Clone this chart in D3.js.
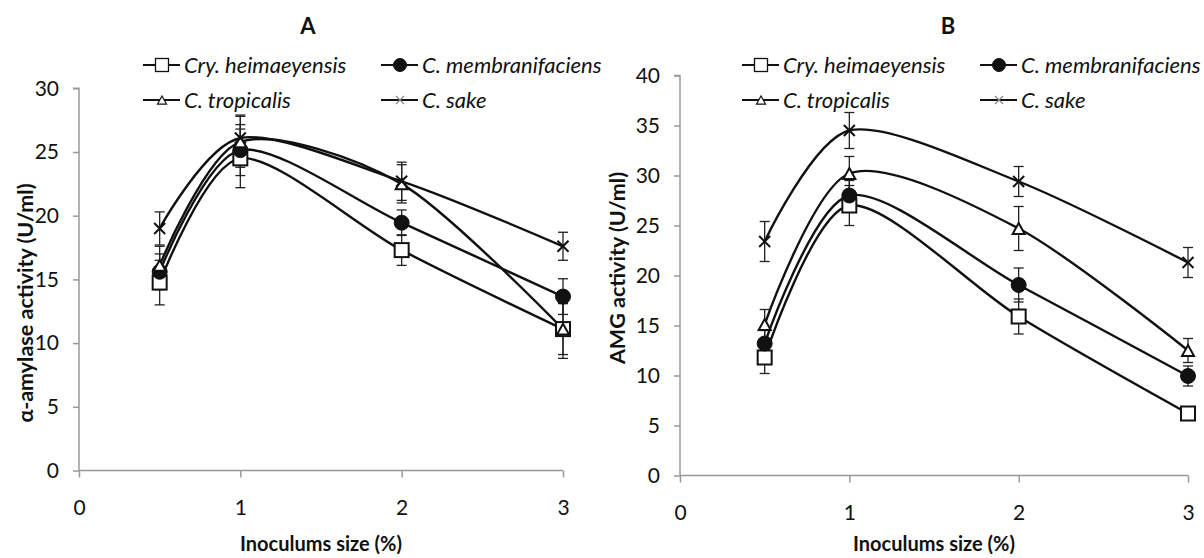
<!DOCTYPE html>
<html>
<head>
<meta charset="utf-8">
<script src="https://cdn.jsdelivr.net/npm/d3@7"></script>
<style>
  html, body { margin: 0; padding: 0; background: #fff; }
  svg { display: block; }
  text { font-family: Lato, "Open Sans", sans-serif; fill: #111; }
</style>
</head>
<body>
<svg id="chart" width="1204" height="558"></svg>
<script>
// Inoculum sizes (%)
const inoculumSizes = [0.5, 1, 2, 3];
const xTicks = [0, 1, 2, 3];

// Yeast strains
const strainNames = ["Cry. heimaeyensis", "C. membranifaciens", "C. tropicalis", "C. sake"];
const markerKinds = ["square", "circle", "triangle", "cross"];

// Panel A: alpha-amylase activity (U/ml), means and error
const amylaseCry  = [14.75, 24.5, 17.3, 11.1];
const amylaseMem  = [15.6, 25.15, 19.45, 13.65];
const amylaseTro  = [16.1, 25.8, 22.5, 11.1];
const amylaseSake = [19.0, 26.1, 22.7, 17.6];
const amylaseCryErr  = [1.75, 2.3, 1.2, 2.3];
const amylaseMemErr  = [1.4, 2.0, 1.0, 1.4];
const amylaseTroErr  = [1.5, 2.0, 1.5, 2.0];
const amylaseSakeErr = [1.3, 1.8, 1.5, 1.1];
const amylaseTicks = [0, 5, 10, 15, 20, 25, 30];

// Panel B: AMG activity (U/ml), means and error
const amgCry  = [11.8, 27.0, 15.9, 6.2];
const amgMem  = [13.2, 28.0, 19.05, 9.95];
const amgTro  = [15.1, 30.2, 24.7, 12.5];
const amgSake = [23.4, 34.5, 29.4, 21.3];
const amgCryErr  = [1.6, 2.0, 1.75, 0.6];
const amgMemErr  = [1.3, 1.5, 1.7, 1.0];
const amgTroErr  = [1.5, 1.7, 2.2, 1.2];
const amgSakeErr = [2.0, 1.8, 1.5, 1.5];
const amgTicks = [0, 5, 10, 15, 20, 25, 30, 35, 40];

const svg = d3.select("#chart");
const axisColor = "#999";

function drawMarker(g, kind, cx, cy, s, legend) {
  if (kind === "square") {
    g.append("rect").attr("x", cx - s / 2).attr("y", cy - s / 2)
      .attr("width", s).attr("height", s)
      .attr("fill", "#fff").attr("stroke", "#111").attr("stroke-width", legend ? 1.3 : 2);
  } else if (kind === "circle") {
    g.append("circle").attr("cx", cx).attr("cy", cy).attr("r", s / 2)
      .attr("fill", "#111").attr("stroke", "#111");
  } else if (kind === "triangle") {
    const h = s * 0.9;
    g.append("path")
      .attr("d", `M${cx},${cy - h / 2}L${cx + s / 2},${cy + h / 2}L${cx - s / 2},${cy + h / 2}Z`)
      .attr("fill", "#fff").attr("stroke", "#111").attr("stroke-width", legend ? 1.2 : 2);
  } else {
    const r = s / 2;
    g.append("path")
      .attr("d", `M${cx - r},${cy - r}L${cx + r},${cy + r}M${cx - r},${cy + r}L${cx + r},${cy - r}`)
      .attr("stroke", legend ? "#888" : "#111").attr("stroke-width", legend ? 1.2 : 2).attr("fill", "none");
  }
}

function drawPanel(p) {
  const x = d3.scaleLinear().domain([0, 3]).range([p.x0, p.x1]);
  const y = d3.scaleLinear().domain([0, p.yMax]).range([p.y0, p.y1]);
  const g = svg.append("g");

  // axes
  const yAxis = g.append("g").attr("transform", `translate(${p.x0},0)`)
    .call(d3.axisLeft(y).tickValues(p.yTicks).tickSize(6).tickPadding(14).tickFormat(d3.format("d")));
  const xAxis = g.append("g").attr("transform", `translate(0,${p.y0})`)
    .call(d3.axisBottom(x).tickValues(xTicks).tickSize(7).tickPadding(23).tickFormat(d3.format("d")));
  [yAxis, xAxis].forEach(a => {
    a.select(".domain").attr("stroke", axisColor).attr("stroke-width", 1.5);
    a.selectAll(".tick line").attr("stroke", axisColor).attr("stroke-width", 1.5);
    a.selectAll(".tick text").style("font-size", "21px").style("font-family", "Lato, 'Open Sans', sans-serif").attr("fill", "#222");
  });
  yAxis.select(".domain").attr("d", `M-6,${y(p.yMax)}H0V${p.y0}`);
  xAxis.select(".domain").attr("d", `M${p.x0},0H${p.x1}`);

  const line = d3.line()
    .x((d, i) => x(inoculumSizes[i]))
    .y(d => y(d))
    .curve(d3.curveCardinal.tension(0.15));

  // smoothed lines
  p.series.forEach(s => {
    g.append("path").attr("d", line(s.values))
      .attr("fill", "none").attr("stroke", "#111").attr("stroke-width", 2.4);
  });

  // error bars
  p.series.forEach(s => {
    s.values.forEach((v, i) => {
      const cx = x(inoculumSizes[i]);
      const e = s.errors[i];
      const eg = g.append("g").attr("stroke", "#222").attr("stroke-width", 1.3);
      eg.append("line").attr("x1", cx).attr("x2", cx).attr("y1", y(v - e)).attr("y2", y(v + e));
      eg.append("line").attr("x1", cx - 5).attr("x2", cx + 5).attr("y1", y(v - e)).attr("y2", y(v - e));
      eg.append("line").attr("x1", cx - 5).attr("x2", cx + 5).attr("y1", y(v + e)).attr("y2", y(v + e));
    });
  });

  // markers
  p.series.forEach((s, k) => {
    s.values.forEach((v, i) => {
      const kind = markerKinds[k];
      const size = kind === "square" ? 14 : kind === "circle" ? 15 : kind === "triangle" ? 12 : 11;
      drawMarker(g, kind, x(inoculumSizes[i]), y(v), size, false);
    });
  });

  // panel letter
  g.append("text").attr("x", p.titleX).attr("y", 34).attr("text-anchor", "middle")
    .style("font-size", "22px").style("font-weight", "bold").text(p.title);

  // legend
  const cols = [p.legendX, p.legendX + 238];
  const rows = [65, 100];
  [0, 1, 2, 3].forEach(k => {
    const lx = cols[k % 2];
    const ly = rows[Math.floor(k / 2)];
    const lg = g.append("g");
    lg.append("line").attr("x1", lx).attr("x2", lx + 37).attr("y1", ly).attr("y2", ly)
      .attr("stroke", "#111").attr("stroke-width", 2);
    const kind = markerKinds[k];
    const size = kind === "square" ? 13 : kind === "circle" ? 13 : kind === "triangle" ? 9 : 8;
    drawMarker(lg, kind, lx + 19, ly, size, true);
    lg.append("text").attr("x", lx + 41).attr("y", ly + 8)
      .style("font-size", "22px").style("font-style", "italic")
      .text(strainNames[k]);
  });

  // axis titles
  g.append("text").attr("x", (p.x0 + p.x1) / 2).attr("y", 551).attr("text-anchor", "middle")
    .style("font-size", "20px").style("font-weight", "bold").text("Inoculums size (%)");
  g.append("text")
    .attr("transform", `translate(${p.yTitleX},${p.yTitleY}) rotate(-90)`)
    .attr("text-anchor", "middle")
    .style("font-size", "21.5px").style("font-weight", "bold").text(p.yTitle);
}

drawPanel({
  x0: 79, x1: 563, y0: 470.5, y1: 88.3, yMax: 30, yTicks: amylaseTicks,
  title: "A", titleX: 308, legendX: 143, yTitleX: 33, yTitleY: 303,
  yTitle: "α-amylase activity (U/ml)",
  series: [
    { values: amylaseCry, errors: amylaseCryErr },
    { values: amylaseMem, errors: amylaseMemErr },
    { values: amylaseTro, errors: amylaseTroErr },
    { values: amylaseSake, errors: amylaseSakeErr }
  ]
});

drawPanel({
  x0: 680, x1: 1188, y0: 475.5, y1: 75.5, yMax: 40, yTicks: amgTicks,
  title: "B", titleX: 948, legendX: 742, yTitleX: 625, yTitleY: 268,
  yTitle: "AMG activity (U/ml)",
  series: [
    { values: amgCry, errors: amgCryErr },
    { values: amgMem, errors: amgMemErr },
    { values: amgTro, errors: amgTroErr },
    { values: amgSake, errors: amgSakeErr }
  ]
});
</script>
</body>
</html>
